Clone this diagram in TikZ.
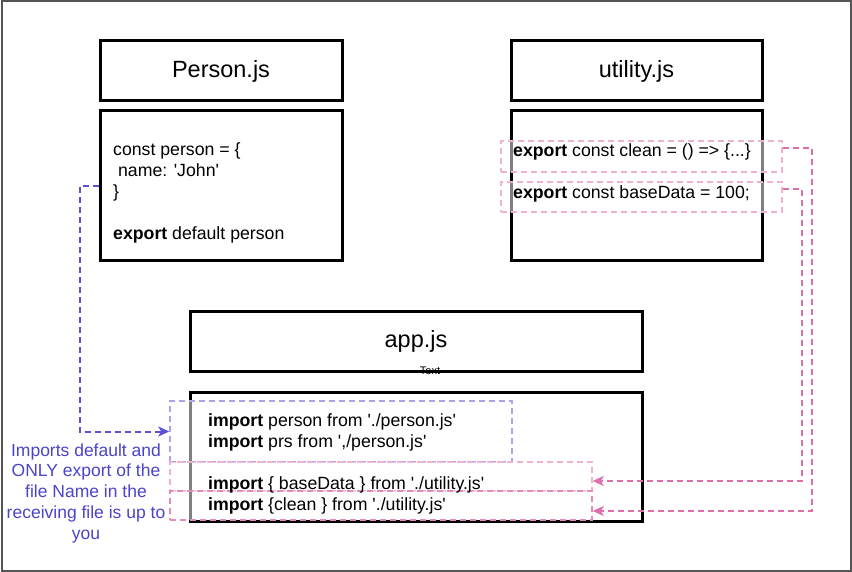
\documentclass[tikz,border=0pt]{standalone}
\usepackage{fontspec}
\setmainfont{Liberation Sans}
\usetikzlibrary{arrows.meta,calc}
\definecolor{conblue}{HTML}{5B50D6}
\definecolor{lblblue}{HTML}{4B44C9}
\definecolor{boxblue}{HTML}{ADA2EA}
\definecolor{conpink}{HTML}{DF6FAB}
\definecolor{boxpink}{HTML}{EFB3D0}
\definecolor{boxpinkdk}{HTML}{E58BBB}
\definecolor{framegray}{HTML}{555555}
\newcommand{\cdfont}{\fontsize{17.7}{21}\selectfont}
\newcommand{\ttlfont}{\fontsize{23.5}{28}\selectfont}
\newcommand{\lblfont}{\fontsize{17.5}{20.75}\selectfont}
\newcommand{\sq}{\textquotesingle}
\begin{document}
\begin{tikzpicture}[x=1pt,y=-1pt,
  filebox/.style={draw=black,line width=3pt,inner sep=0pt},
  selbox/.style={draw=#1,line width=1.5pt,dash pattern=on 6pt off 4pt,fill=white,fill opacity=0.5,inner sep=0pt},
  codeline/.style={anchor=base west,inner sep=0pt,font=\cdfont},
  bluecon/.style={draw=conblue,line width=2pt,dash pattern=on 6pt off 4pt,-{Stealth[length=11pt,width=10pt,inset=3pt]}},
  pinkcon/.style={draw=conpink,line width=2.2pt,dash pattern=on 6pt off 4pt,-{Stealth[length=11pt,width=10pt,inset=3pt]}}
]
\useasboundingbox (0,0) rectangle (852,572);
\node[draw=framegray,line width=2pt,minimum width=849pt,minimum height=569pt,inner sep=0pt] (frame) at (426,286) {};

% file boxes
\node[filebox,minimum width=242pt,minimum height=60pt,font=\ttlfont] (ptitle) at (221,71) {Person.js};
\node[filebox,minimum width=242pt,minimum height=150pt] (pcode) at (221,186) {};
\node[filebox,minimum width=251pt,minimum height=60pt,font=\ttlfont] (utitle) at (636.5,71) {utility.js};
\node[filebox,minimum width=251pt,minimum height=150pt] (ucode) at (636.5,186) {};
\node[filebox,minimum width=452pt,minimum height=59pt,font=\ttlfont] (atitle) at (416,341.5) {app.js};
\node[filebox,minimum width=452pt,minimum height=129pt] (acode) at (416,456.5) {};
\node[inner sep=0pt,font=\fontsize{11}{12}\selectfont] (txt) at (430,371) {Text};

% selection boxes
\node[selbox=boxpink,minimum width=281pt,minimum height=31pt] (uclean) at (641.5,156.5) {};
\node[selbox=boxpink,minimum width=281pt,minimum height=30pt] (ubase) at (641.5,197) {};
\node[selbox=boxblue,minimum width=342pt,minimum height=61pt] (aperson) at (341,431.5) {};
\node[selbox=boxpink,minimum width=422pt,minimum height=29pt] (abase) at (381,476.5) {};
\node[selbox=boxpinkdk,minimum width=422pt,minimum height=29pt] (aclean) at (381,505.5) {};

% code text
\node[codeline] (p1) at (113,156) {const person = \{};
\node[codeline] (p2) at (113,177) {\ name: \sq John\sq};
\node[codeline] (p3) at (113,198) {\}};
\node[codeline] (p4) at (113,240) {\textbf{export} default person};
\node[codeline] (u1) at (513,157) {\textbf{export} const clean = () => \{...\}};
\node[codeline] (u2) at (513,199) {\textbf{export} const baseData = 100;};
\node[codeline] (a1) at (208,426) {\textbf{import} person from \sq./person.js\sq};
\node[codeline] (a2) at (208,447) {\textbf{import} prs from \sq,/person.js\sq};
\node[codeline] (a3) at (208,489) {\textbf{import} \{ baseData \} from \sq./utility.js\sq};
\node[codeline] (a4) at (208,510) {\textbf{import} \{clean \} from \sq./utility.js\sq};

% label
\node[align=center,inner sep=0pt,text=lblblue,font=\lblfont] (lbl) at (86,493)
  {Imports default and\\ONLY export of the\\file Name in the\\receiving file is up to\\you};

% connectors
\draw[bluecon] (pcode.west) -- ++(-19,0) |- (aperson.west);
\draw[pinkcon] ([yshift=8.5pt]uclean.east) -- ++(29,0) |- ([yshift=-5.5pt]aclean.east);
\draw[pinkcon] ([yshift=8pt]ubase.east) -- ++(19,0) |- ([yshift=-4.5pt]abase.east);
\end{tikzpicture}
\end{document}
